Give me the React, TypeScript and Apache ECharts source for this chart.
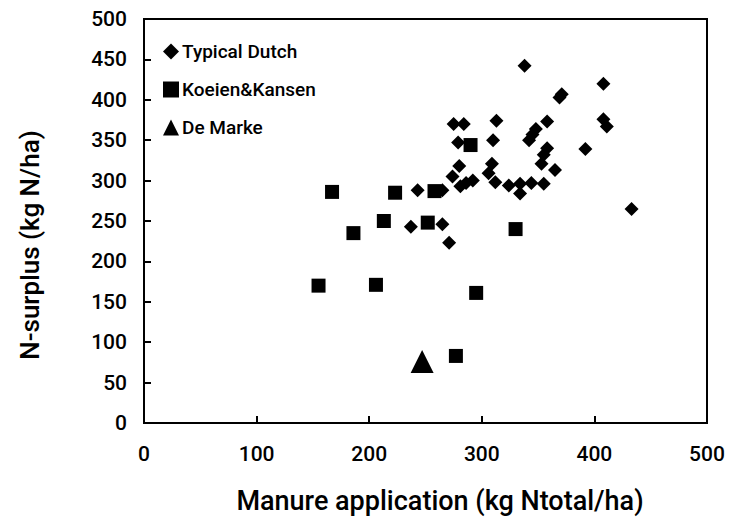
import React, { useEffect, useRef } from "react";
import * as echarts from "echarts";

const xTicks = [0, 100, 200, 300, 400, 500];
const yTicks = [0, 50, 100, 150, 200, 250, 300, 350, 400, 450, 500];

const typicalDutch: [number, number][] = [
  [237, 243], [243, 288], [265, 288], [265, 246], [271, 223],
  [275, 370], [284, 370], [279, 347], [310, 350], [313, 374],
  [280, 318], [274, 305], [281, 293], [286, 297], [292, 300],
  [309, 321], [306, 309], [312, 298], [324, 294], [334, 296],
  [334, 284], [344, 297], [355, 296], [338, 442], [369, 403],
  [371, 407], [408, 420], [358, 373], [348, 364], [345, 357],
  [342, 350], [408, 376], [411, 367], [392, 339], [358, 340],
  [355, 332], [353, 321], [365, 313], [433, 265],
];

const koeienKansen: [number, number][] = [
  [155, 170], [167, 286], [186, 235], [206, 171], [213, 250],
  [223, 285], [252, 248], [258, 287], [277, 83], [290, 344],
  [295, 161], [330, 240],
];

const deMarke: [number, number][] = [[247, 76]];

const FONT = "Roboto, 'Liberation Sans', sans-serif";

export default function App() {
  const ref = useRef<HTMLDivElement>(null);
  useEffect(() => {
    if (!ref.current) return;
    const chart = echarts.init(ref.current, undefined, { renderer: "svg" });
    chart.setOption({
      animation: false,
      backgroundColor: "#fff",
      grid: {
        left: 144,
        right: 24,
        top: 19,
        bottom: 102,
        show: true,
        borderColor: "#000",
        borderWidth: 2,
        backgroundColor: "transparent",
      },
      legend: {
        orient: "vertical",
        left: 158,
        top: 37,
        itemGap: 19,
        itemWidth: 16,
        itemHeight: 16,
        textStyle: { fontFamily: FONT, fontSize: 19, color: "#000", fontWeight: 500, padding: [0, 0, 0, -2] },
        data: ["Typical Dutch", "Koeien&Kansen", "De Marke"],
      },
      xAxis: {
        type: "value",
        min: 0,
        max: 500,
        interval: 100,
        axisLine: { show: true, lineStyle: { color: "#000", width: 2 } },
        axisTick: { show: true, inside: true, length: 7, lineStyle: { color: "#000", width: 2 } },
        splitLine: { show: false },
        axisLabel: {
          margin: 20,
          fontFamily: FONT,
          fontSize: 21,
          fontWeight: 500,
          color: "#000",
          formatter: (v: number) => (xTicks.includes(v) ? String(v) : ""),
        },
      },
      yAxis: {
        type: "value",
        min: 0,
        max: 500,
        interval: 50,
        axisLine: { show: true, lineStyle: { color: "#000", width: 2 } },
        axisTick: { show: true, inside: true, length: 7, lineStyle: { color: "#000", width: 2 } },
        splitLine: { show: false },
        axisLabel: {
          margin: 17,
          fontFamily: FONT,
          fontSize: 21,
          fontWeight: 500,
          color: "#000",
          formatter: (v: number) => (yTicks.includes(v) ? String(v) : ""),
        },
      },
      graphic: [
        {
          type: "text",
          x: 440,
          y: 501,
          style: {
            text: "Manure application (kg Ntotal/ha)",
            fontFamily: FONT,
            fontSize: 27,
            fontWeight: 500,
            fill: "#000",
            align: "center",
            verticalAlign: "middle",
          },
        },
        {
          type: "text",
          x: 30,
          y: 245,
          rotation: Math.PI / 2,
          style: {
            text: "N-surplus (kg N/ha)",
            fontFamily: FONT,
            fontSize: 26,
            fontWeight: 500,
            fill: "#000",
            align: "center",
            verticalAlign: "middle",
          },
        },
      ],
      series: [
        {
          name: "Typical Dutch",
          type: "scatter",
          symbol: "diamond",
          symbolSize: 14,
          itemStyle: { color: "#000", opacity: 1 },
          data: typicalDutch,
        },
        {
          name: "Koeien&Kansen",
          type: "scatter",
          symbol: "rect",
          symbolSize: 14,
          itemStyle: { color: "#000", opacity: 1 },
          data: koeienKansen,
        },
        {
          name: "De Marke",
          type: "scatter",
          symbol: "triangle",
          symbolSize: 23,
          itemStyle: { color: "#000", opacity: 1 },
          data: deMarke,
        },
      ],
    });
    return () => chart.dispose();
  }, []);
  return (
    <div
      ref={ref}
      style={{ position: "fixed", left: 0, top: 0, width: 731, height: 525 }}
    />
  );
}
